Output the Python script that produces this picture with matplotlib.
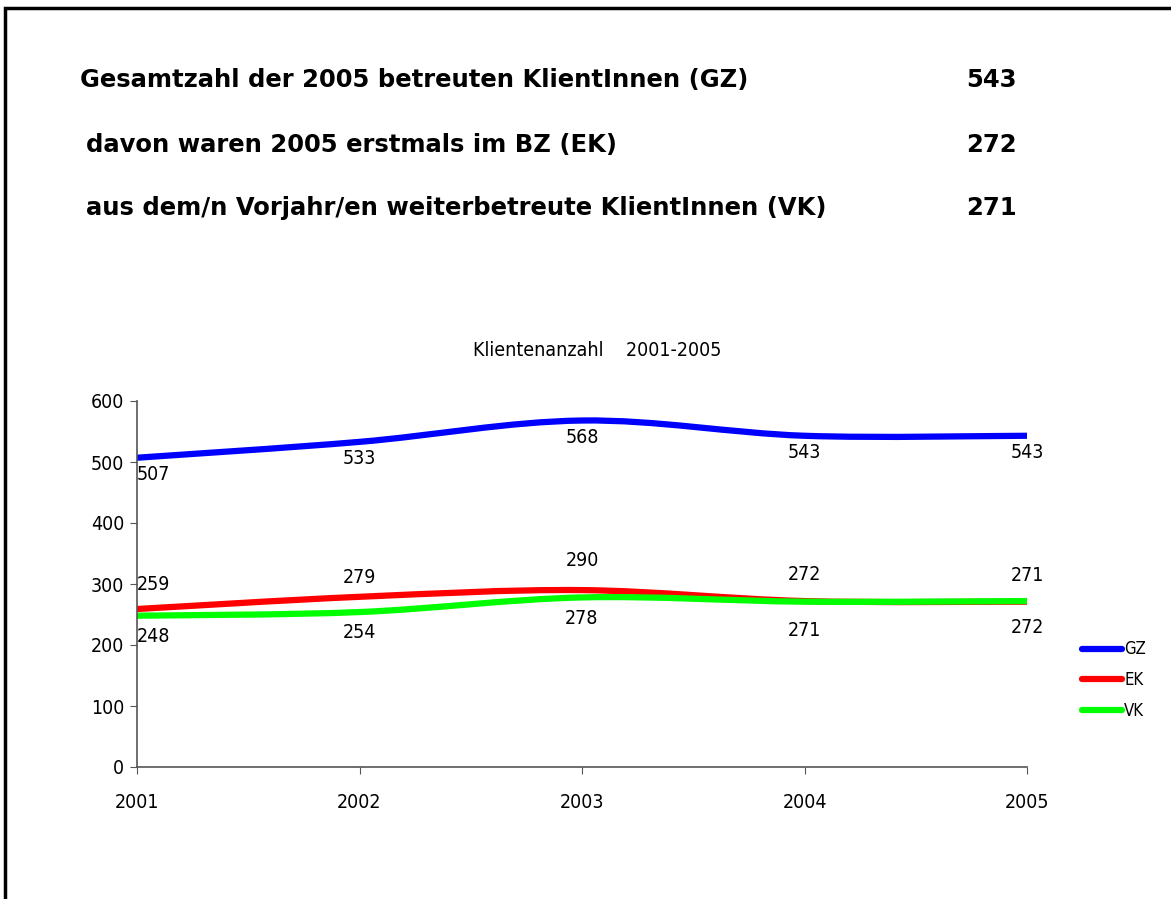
"""
Klientenanzahl 2001-2005 line chart with summary header.
"""

import numpy as np
import matplotlib
matplotlib.use("Agg")
import matplotlib.pyplot as plt
from matplotlib.path import Path
from matplotlib.patches import PathPatch, Rectangle
from matplotlib.lines import Line2D

# Data
years = ["2001", "2002", "2003", "2004", "2005"]
gz = [507, 533, 568, 543, 543]
ek = [259, 279, 290, 272, 271]
vk = [248, 254, 278, 271, 272]

summary_labels = [
    "Gesamtzahl der 2005 betreuten KlientInnen (GZ)",
    "davon waren 2005 erstmals im BZ (EK)",
    "aus dem/n Vorjahr/en weiterbetreute KlientInnen (VK)",
]
summary_values = ["543", "272", "271"]

CHART_FONT = dict(family="DejaVu Sans", stretch="condensed")


def smooth_path(xs, ys, tension=1 / 6):
    """Bezier path through the points (Excel-like smoothed line)."""
    xs = np.asarray(xs, dtype=float)
    ys = np.asarray(ys, dtype=float)
    n = len(xs)
    verts = [(xs[0], ys[0])]
    codes = [Path.MOVETO]
    for i in range(n - 1):
        i0 = max(i - 1, 0)
        i3 = min(i + 2, n - 1)
        c1 = (xs[i] + (xs[i + 1] - xs[i0]) * tension,
              ys[i] + (ys[i + 1] - ys[i0]) * tension)
        c2 = (xs[i + 1] - (xs[i3] - xs[i]) * tension,
              ys[i + 1] - (ys[i3] - ys[i]) * tension)
        verts += [c1, c2, (xs[i + 1], ys[i + 1])]
        codes += [Path.CURVE4] * 3
    return Path(verts, codes)


def main():
    fig = plt.figure(figsize=(11.71, 8.99), dpi=100)

    # outer frame
    fig.patches.append(Rectangle((5 / 1171, -0.05), 1.2, 0.991 + 0.05,
                                 transform=fig.transFigure, fill=False,
                                 edgecolor="black", linewidth=2.5))

    # header text
    header_y = [80, 145, 208]
    header_x = [80, 86, 86]
    for lab, val, x, y in zip(summary_labels, summary_values, header_x, header_y):
        fig.text(x / 1171, 1 - y / 899, lab, fontsize=17.5, fontweight="bold",
                 family="DejaVu Sans", va="center", ha="left")
        fig.text(1017 / 1171, 1 - y / 899, val, fontsize=17.5, fontweight="bold",
                 family="DejaVu Sans", va="center", ha="right")

    ax = fig.add_axes([137 / 1171, 132 / 899, 890 / 1171, 366 / 899])
    x = np.arange(len(years))

    series = [("GZ", gz, "#0000FF"), ("EK", ek, "#FF0000"), ("VK", vk, "#00FF00")]
    for name, vals, col in series:
        ax.add_patch(PathPatch(smooth_path(x, vals), facecolor="none",
                               edgecolor=col, linewidth=4.5, capstyle="round"))

    # data labels
    lab_kw = dict(fontsize=14, textcoords="offset points", **CHART_FONT)
    for i, v in enumerate(gz):
        ha = "left" if i == 0 else "center"
        ax.annotate(str(v), (x[i], v), xytext=(0, -12), ha=ha, va="center", **lab_kw)
    ek_off = [18, 14, 21, 19, 19]
    for i, v in enumerate(ek):
        ha = "left" if i == 0 else "center"
        ax.annotate(str(v), (x[i], v), xytext=(0, ek_off[i]), ha=ha, va="center", **lab_kw)
    vk_off = [-15, -15, -15, -21, -19]
    for i, v in enumerate(vk):
        ha = "left" if i == 0 else "center"
        ax.annotate(str(v), (x[i], v), xytext=(0, vk_off[i]), ha=ha, va="center", **lab_kw)

    ax.set_xlim(0, len(years) - 1)
    ax.set_ylim(0, 600)
    ax.set_yticks(range(0, 601, 100))
    ax.set_xticks(x)
    ax.set_xticklabels(years)
    for lbl in ax.get_xticklabels() + ax.get_yticklabels():
        lbl.set_family(CHART_FONT["family"])
        lbl.set_stretch(CHART_FONT["stretch"])
        lbl.set_fontsize(14)
    ax.tick_params(axis="x", direction="out", length=5, pad=14, color="#555555")
    ax.tick_params(axis="y", direction="out", length=5, pad=4, color="#555555")
    ax.spines["top"].set_visible(False)
    ax.spines["right"].set_visible(False)
    for s in ("left", "bottom"):
        ax.spines[s].set_color("#555555")
        ax.spines[s].set_linewidth(1.2)
    fig.text(597 / 1171, 1 - 351 / 899, "Klientenanzahl    2001-2005",
             fontsize=14, ha="center", va="center", **CHART_FONT)

    handles = [Line2D([], [], color=c, linewidth=4.5, solid_capstyle="round")
               for _, _, c in series]
    fig.legend(handles, [n for n, _, _ in series], loc="center left",
               bbox_to_anchor=(1074 / 1171, 1 - 680 / 899), frameon=False,
               prop={"family": "DejaVu Sans", "stretch": "condensed", "size": 12},
               handlelength=2.4, handletextpad=0.1, labelspacing=0.75, borderpad=0)

    fig.savefig("out.png", dpi=100)


if __name__ == "__main__":
    main()
